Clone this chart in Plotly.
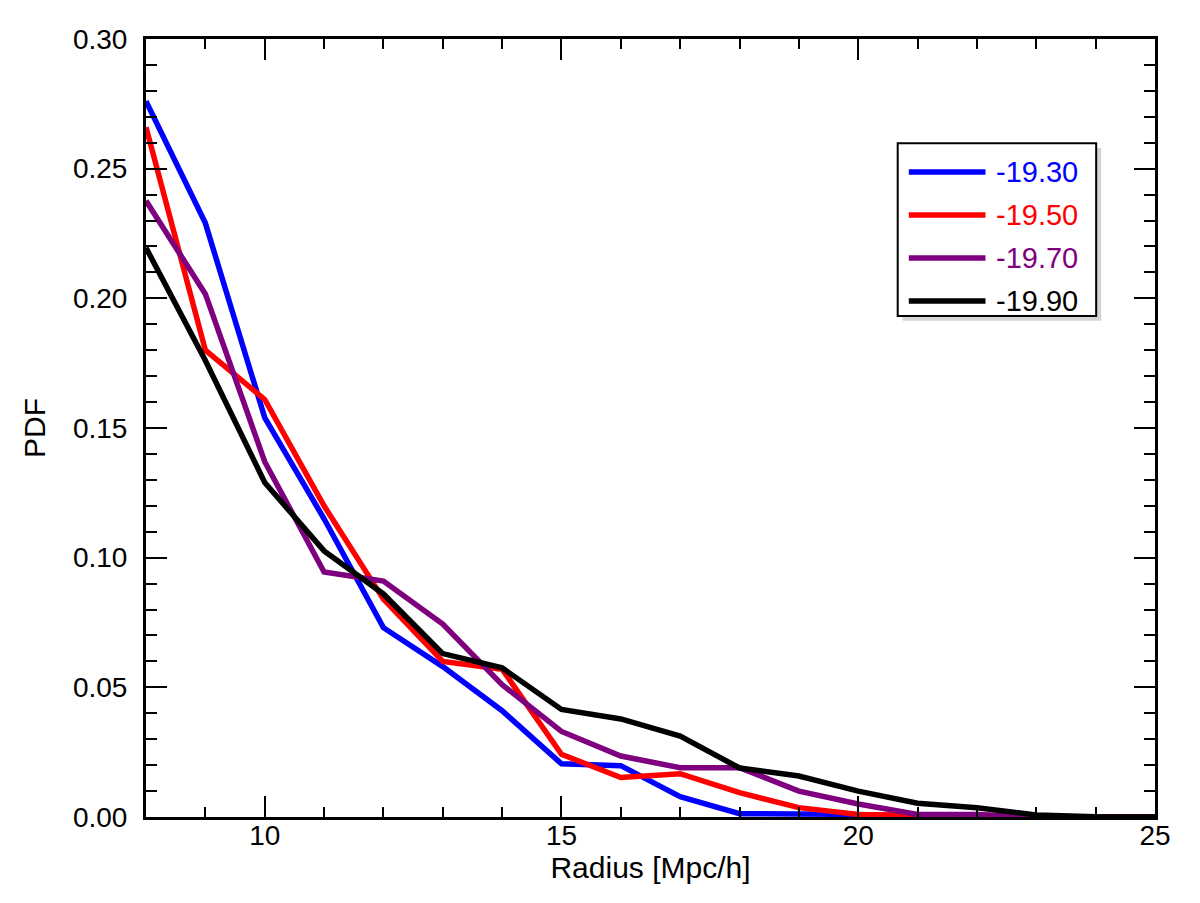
import plotly.graph_objects as go

radius = list(range(8, 26))

pdf_1930 = [0.276, 0.229, 0.154, 0.115, 0.073, 0.058, 0.041, 0.0205, 0.0198, 0.0078, 0.0013,
            0.0012, 0.001, 0.0003, 0.0, 0.0, 0.0, 0.0]
pdf_1950 = [0.266, 0.180, 0.161, 0.120, 0.084, 0.060, 0.057, 0.0242, 0.0152, 0.0167, 0.0094,
            0.0036, 0.001, 0.0005, 0.0, 0.0, 0.0, 0.0]
pdf_1970 = [0.2376, 0.2017, 0.137, 0.0945, 0.091, 0.0744, 0.051, 0.033, 0.0235, 0.019, 0.019,
            0.010, 0.005, 0.001, 0.001, 0.0, 0.0, 0.0]
pdf_1990 = [0.2195, 0.176, 0.129, 0.1026, 0.086, 0.063, 0.0575, 0.0415, 0.0378, 0.0312, 0.0189,
            0.0158, 0.010, 0.0053, 0.0036, 0.0008, 0.0001, 0.0]

names = ["-19.30", "-19.50", "-19.70", "-19.90"]
colors = ["#0000ff", "#ff0000", "#7f007f", "#000000"]
series = [pdf_1930, pdf_1950, pdf_1970, pdf_1990]

fig = go.Figure()
for nm, col, ys in zip(names, colors, series):
    fig.add_trace(go.Scatter(x=radius, y=ys, mode="lines", name=nm,
                             line=dict(color=col, width=5.5), showlegend=False))

# legend box drawn by hand (IDL style: long line samples, coloured text, drop shadow)
box_x0, box_x1, box_y0, box_y1 = 0.745, 0.9417, 0.644, 0.866
fig.add_shape(type="rect", xref="paper", yref="paper",
              x0=box_x0 + 0.005, x1=box_x1 + 0.005, y0=box_y0 - 0.006, y1=box_y1 - 0.006,
              fillcolor="#d4d4d4", line=dict(width=0))
fig.add_shape(type="rect", xref="paper", yref="paper",
              x0=box_x0, x1=box_x1, y0=box_y0, y1=box_y1,
              fillcolor="white", line=dict(color="black", width=2))
for i, (nm, col) in enumerate(zip(names, colors)):
    yy = 0.829 - i * 0.0553
    fig.add_shape(type="line", xref="paper", yref="paper",
                  x0=0.756, x1=0.832, y0=yy, y1=yy, line=dict(color=col, width=5.5))
    fig.add_annotation(xref="paper", yref="paper", x=0.840, y=yy, text=nm,
                       showarrow=False, xanchor="left", yanchor="middle",
                       font=dict(size=29, color=col))

axis_common = dict(showline=True, linecolor="black", linewidth=3, mirror="allticks",
                   ticks="inside", ticklen=21, tickwidth=2, tickcolor="black",
                   showgrid=False, zeroline=False,
                   tickfont=dict(size=28, color="black"))

fig.update_xaxes(range=[8, 25], dtick=5, tick0=0, ticklabelstandoff=-9,
                 minor=dict(ticks="inside", ticklen=10, tickwidth=2, tickcolor="black", dtick=1),
                 title=dict(text="Radius [Mpc/h]", font=dict(size=30), standoff=0),
                 **axis_common)
fig.update_yaxes(range=[0, 0.3], dtick=0.05, tickformat=".2f", ticklabelstandoff=10,
                 minor=dict(ticks="inside", ticklen=11, tickwidth=2, tickcolor="black", dtick=0.01),
                 title=dict(text="PDF", font=dict(size=30), standoff=19),
                 **axis_common)

fig.update_layout(
    width=1200, height=903,
    margin=dict(l=138, r=53, t=31, b=94),
    paper_bgcolor="white", plot_bgcolor="white",
    font=dict(family="Liberation Sans, Arial, sans-serif", color="black"),
    showlegend=False,
)

fig.write_html("out.html")
